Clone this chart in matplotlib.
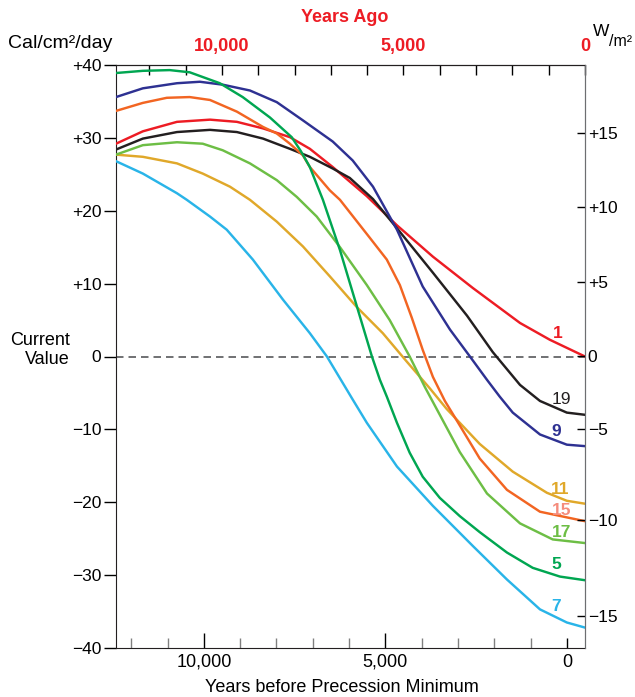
import numpy as np
import matplotlib; matplotlib.use("Agg")
import matplotlib.pyplot as plt

plt.rcParams.update({"font.family":["Liberation Sans","DejaVu Sans"],"font.size":13})

# years before precession minimum -> insolation anomaly (cal/cm2/day), one pair per latitude band
x_1=[12420,11680,10740,9830,9090,8370,7630,7080,6450,5510,4680,3690,2590,1290,470,-500]
y_1=[29.2,30.9,32.2,32.5,32.2,31.3,30.1,28.5,26.0,22.0,18.0,13.7,9.4,4.6,2.3,0.0]
x_19=[12420,11680,10740,9830,9090,8370,7630,7080,6450,5980,5340,4680,3690,2750,2040,1290,740,0,-500]
y_19=[28.4,29.9,30.8,31.1,30.8,29.9,28.5,27.4,25.8,24.5,21.6,17.6,11.5,5.6,0.6,-3.9,-6.1,-7.7,-8.0]
x_9=[12420,11680,10740,10110,9480,8730,7990,7270,6450,5900,5340,4880,4680,3970,3220,2670,2200,1850,1490,740,0,-500]
y_9=[35.6,36.8,37.5,37.7,37.3,36.5,34.9,32.4,29.5,26.9,23.3,19.2,17.4,9.6,3.7,0.0,-3.2,-5.5,-7.7,-10.7,-12.1,-12.3]
x_11=[12420,11680,10740,10030,9280,8730,7990,7270,6530,5790,5070,4410,3770,3310,2400,1490,550,0,-500]
y_11=[27.7,27.4,26.5,25.1,23.3,21.5,18.5,15.1,11.0,6.8,3.2,-0.7,-4.4,-7.2,-12.0,-15.8,-18.7,-19.8,-20.2]
x_15=[12420,11680,11020,10390,9830,9090,8370,7990,7630,7270,7080,6530,6250,5840,5430,4960,4600,4270,3970,3690,3360,3030,2400,1650,740,-500]
y_15=[33.7,34.8,35.5,35.6,35.2,33.6,31.5,30.6,29.2,27.6,26.0,22.8,21.5,18.9,16.3,13.3,9.8,5.3,0.9,-2.8,-6.1,-8.8,-14.0,-18.3,-21.3,-22.6]
x_17=[12420,11680,10740,10030,9480,8730,7990,7440,6890,6250,5510,4880,4330,3910,3500,2950,2200,1290,390,-500]
y_17=[27.7,29.0,29.4,29.2,28.3,26.5,24.2,21.9,19.2,15.0,9.8,5.0,0.0,-4.2,-8.0,-13.1,-18.8,-22.9,-25.1,-25.6]
x_5=[12420,11680,10940,10390,9560,8930,8180,7580,7330,7080,6720,6250,5840,5370,5150,4960,4680,4330,3970,3500,2950,2400,1650,940,190,-500]
y_5=[38.9,39.2,39.3,39.0,37.5,35.6,32.8,30.1,28.2,26.0,21.5,14.6,7.8,0.0,-3.2,-5.5,-9.1,-13.2,-16.5,-19.4,-21.9,-24.1,-26.9,-29.0,-30.2,-30.7]
x_7=[12420,11680,10740,10470,9830,9370,8650,7820,7080,6610,5900,5510,4680,3690,2590,1650,740,0,-500]
y_7=[26.8,25.1,22.4,21.5,19.2,17.4,13.3,7.8,3.2,0.0,-5.9,-9.1,-15.1,-20.5,-26.0,-30.6,-34.7,-36.5,-37.2]

names=["1","19","9","11","15","17","5","7"]
yl_vals=[-40,-30,-20,-10,0,10,20,30,40]
wm2_lab=["+15","+10","+5","0","\u22125","\u221210","\u221215"]

cols={"1":"#ed1c24","19":"#231f20","9":"#2e3192","11":"#e0a82a","15":"#f26522",
      "17":"#6dbe45","5":"#00a651","7":"#29b4e8"}
labcol=dict(cols); labcol["15"]="#f58c7c"
series={"1":(x_1,y_1),"19":(x_19,y_19),"9":(x_9,y_9),"11":(x_11,y_11),"15":(x_15,y_15),
        "17":(x_17,y_17),"5":(x_5,y_5),"7":(x_7,y_7)}

W,H=635,697
fig=plt.figure(figsize=(W/100,H/100),dpi=100)
ax=fig.add_axes([116/W,1-648/H,(585-116)/W,(648-65)/H])
ax.set_xlim(12420,-500); ax.set_ylim(-40,40)
ax.axhline(0,color="#58595b",lw=1.2,ls=(0,(4.5,3)),zorder=1)
for n in names:
    xs,ys=series[n]
    ax.plot(xs,ys,color=cols[n],lw=1.75,solid_joinstyle="round",zorder=3)

# curve numbers at the right end
lab_pos={"1":(250,3.2),"19":(140,-5.9),"9":(280,-10.3),"11":(190,-18.2),"15":(140,-21.1),
         "17":(140,-24.1),"5":(280,-28.6),"7":(300,-34.3)}
for n in names:
    px,py=lab_pos[n]
    ax.text(px,py,n,color=labcol[n],ha="center",va="center",fontsize=12.5,
            fontweight="normal" if n=="19" else "bold",zorder=4)

# left axis
ax.set_yticks(yl_vals)
ax.set_yticklabels([("+%d"%v if v>0 else ("\u2212%d"%-v if v<0 else "0")) for v in yl_vals])
ax.tick_params(axis="y",direction="out",length=9,width=1,pad=1.5,labelsize=12.5,right=False)

# bottom axis
ax.set_xticks([10000,5000,0]); ax.set_xticklabels(["10,000","5,000","0"])
ax.set_xticks(range(0,12001,1000),minor=True)
ax.tick_params(axis="x",which="major",direction="in",length=11,width=1,pad=4,labelsize=13,top=False)
ax.tick_params(axis="x",which="minor",direction="in",length=7,width=1,color="#808080",top=False)
ax.xaxis.get_major_ticks()[2].tick1line.set_markersize(7)

# top axis: years ago
sec=ax.secondary_xaxis("top",functions=(lambda v:v+500,lambda v:v-500))
sec.set_xticks([10000,5000,0]); sec.set_xticklabels(["10,000","5,000","0"])
sec.set_xticks(range(0,13000,1000),minor=True)
sec.tick_params(which="both",direction="in",length=7,width=1,pad=7,labelsize=13,labelcolor="#ed1c24")
for t in sec.get_xticklabels(): t.set_fontweight("bold")

# right axis: W/m2
ax2=ax.twinx(); ax2.set_ylim(-40,40)
ax2.set_yticks([30.7,20.5,10.2,0,-10.0,-22.4,-35.6]); ax2.set_yticklabels(wm2_lab)
ax2.tick_params(axis="y",direction="in",length=6,width=1,pad=2,labelsize=12.5)
for a in (ax,ax2):
    a.spines["right"].set_color("#6d6e71")
for s in ("left","top","bottom"): ax2.spines[s].set_visible(False)
for s in ("left","bottom","top"): ax.spines[s].set_color("#231f20")

fig.text(8/W,1-43/H,"Cal/cm\u00b2/day",ha="left",va="center",fontsize=14)
fig.text(345/W,1-18/H,"Years Ago",ha="center",va="center",fontsize=13,fontweight="bold",color="#ed1c24")
fig.text(593/W,1-32/H,"W",ha="left",va="center",fontsize=12.5)
fig.text(609/W,1-41/H,"/m\u00b2",ha="left",va="center",fontsize=11.5)
fig.text(70/W,1-350/H,"Current\nValue",ha="right",va="center",multialignment="right",fontsize=13,linespacing=1.15)
fig.text(342/W,1-688/H,"Years before Precession Minimum",ha="center",va="center",fontsize=13)

fig.savefig("out.png",dpi=100)
